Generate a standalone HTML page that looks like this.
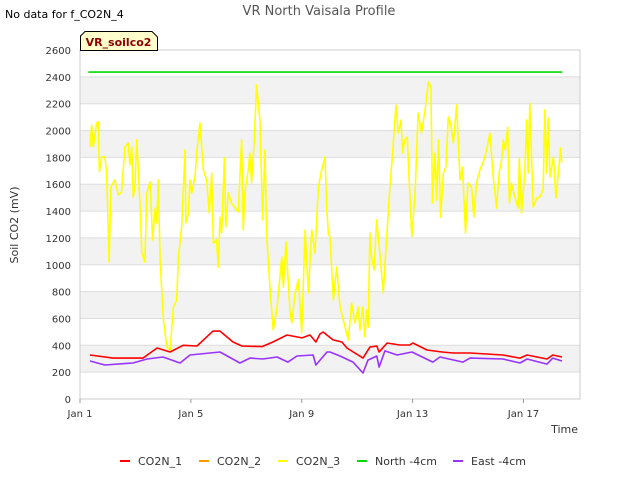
<!DOCTYPE html>
<html><head><meta charset="utf-8"><style>
body{margin:0;background:#fff;font-family:"Liberation Sans","DejaVu Sans",sans-serif}
svg text{font-family:"DejaVu Sans","Liberation Sans",sans-serif}
</style></head><body>
<svg id="chart" width="640" height="480" xmlns="http://www.w3.org/2000/svg">
<rect width="640" height="480" fill="#fff"/>
<text x="319" y="15" text-anchor="middle" font-size="13" fill="#555">VR North Vaisala Profile</text>
<text x="5" y="18" font-size="11" fill="#000">No data for f_CO2N_4</text>
<g id="plot"></g>
<path d="M80.5,50.5 V36 L85,31.5 H152 L157.5,37 V50.5 Z" fill="#ffffcc" stroke="#000" stroke-width="1"/>
<text x="118.5" y="46" text-anchor="middle" font-size="11" font-weight="bold" fill="#8b0000">VR_soilco2</text>
<text transform="translate(18,225) rotate(-90)" text-anchor="middle" font-size="11" fill="#333">Soil CO2 (mV)</text>
<text x="578" y="433" text-anchor="end" font-size="11" fill="#333">Time</text>
<g id="legend"></g>
</svg>
<script>
const yTicks=[0,200,400,600,800,1000,1200,1400,1600,1800,2000,2200,2400,2600];
const xTickDays=[0,4,8,12,16];
const xTickLabels=["Jan 1","Jan 5","Jan 9","Jan 13","Jan 17"];
const seriesNames=["CO2N_1","CO2N_2","CO2N_3","North -4cm","East -4cm"];
const seriesColors=["#ff0000","#ff9900","#ffff00","#00dd00","#9933ff"];
const co2n3Days=[.36,.42,.48,.60,.66,.70,.78,.90,.96,1.05,1.11,1.26,1.38,1.50,1.62,1.74,1.80,1.87,1.92,1.98,2.05,2.16,2.23,2.34,2.41,2.53,2.62,2.71,2.77,2.82,2.89,3.01,3.13,3.25,3.37,3.49,3.55,3.67,3.79,3.82,3.91,3.97,4.03,4.15,4.21,4.33,4.45,4.57,4.66,4.75,4.81,4.93,4.99,5.05,5.11,5.21,5.26,5.35,5.47,5.65,5.71,5.83,5.89,5.95,6.07,6.13,6.19,6.28,6.37,6.49,6.59,6.67,6.74,6.85,6.97,7.10,7.28,7.34,7.43,7.58,7.64,7.76,7.88,8.00,8.12,8.24,8.36,8.48,8.60,8.72,8.84,8.90,8.96,9.02,9.14,9.26,9.38,9.50,9.68,9.80,9.92,10.04,10.10,10.20,10.28,10.34,10.40,10.46,10.52,10.61,10.70,10.80,10.94,11.06,11.18,11.28,11.40,11.48,11.58,11.64,11.72,11.81,11.88,11.97,12.09,12.20,12.32,12.45,12.57,12.66,12.72,12.81,12.87,12.94,13.01,13.11,13.20,13.29,13.37,13.47,13.59,13.71,13.80,13.91,14.00,14.13,14.21,14.31,14.43,14.55,14.67,14.79,14.91,15.03,15.12,15.21,15.27,15.34,15.43,15.49,15.57,15.69,15.81,15.85,15.93,16.05,16.11,16.17,16.23,16.35,16.48,16.59,16.71,16.77,16.84,16.89,16.96,17.08,17.17,17.26,17.34,17.38];
const co2n3Values=[1877,2041,1877,2056,2064,1691,1803,1803,1691,1021,1579,1632,1520,1542,1877,1907,1743,1877,1505,1579,1930,1460,1088,1021,1535,1617,1185,1423,1311,1632,1036,589,387,365,685,738,1058,1281,1855,1311,1386,1632,1535,1654,1833,2056,1706,1632,1386,1684,1162,1185,983,1356,1237,1795,1281,1535,1460,1408,1393,1930,1259,1535,1706,1833,1609,1907,2339,2078,1334,1855,1207,834,514,663,1058,834,1170,641,566,790,887,492,1259,790,1259,1088,1579,1706,1803,1430,1237,1207,738,983,685,589,440,715,566,685,514,685,462,663,536,1237,1058,961,1334,1132,790,1185,1579,1833,2190,1982,2078,1833,1930,1952,1609,1207,1535,2131,1982,2153,2362,2324,1460,1833,1483,1930,1356,1684,1728,2101,2056,1907,2190,1632,1728,1237,1609,1579,1356,1609,1706,1766,1855,1982,1654,1423,1684,1780,1930,1855,2026,1460,1609,1505,1423,1795,1386,1684,2078,1684,2205,1430,1497,1505,1557,2153,1684,2093,1654,1803,1497,1684,1870,1758];
const co2n1Days=[.36,1.19,2.27,2.78,3.25,3.72,4.22,4.80,5.05,5.52,5.84,6.57,6.96,7.47,8.01,8.30,8.51,8.66,8.77,9.13,9.45,9.63,10.21,10.46,10.71,10.79,11.08,11.54,11.90,12.01,12.52,13.06,13.46,14.07,15.26,15.87,16.13,16.85,17.06,17.39];
const co2n1Values=[328,305,305,380,350,400,395,506,506,425,395,390,425,477,455,477,425,484,499,440,425,380,305,387,395,350,417,402,402,417,365,350,343,343,328,305,328,298,328,313];
const eastDays=[.36,.90,1.91,2.42,2.99,3.61,3.97,5.05,5.77,6.13,6.60,7.11,7.50,7.83,8.41,8.51,8.91,9.02,9.38,9.85,10.21,10.39,10.71,10.79,11.00,11.44,11.98,12.73,12.99,13.82,14.07,15.26,15.87,16.13,16.85,17.06,17.39];
const eastValues=[283,253,268,298,313,268,328,350,268,305,298,313,275,320,328,253,350,350,320,275,194,290,320,238,358,328,350,275,313,275,305,298,268,298,260,305,283];
const northDays=[0.3,17.4];
const northValues=[2435,2435];

const X0=80,X1=580,Y0=399,Y1=50,DMAX=18.04,VMAX=2600;
const xs=d=>X0+d*(X1-X0)/DMAX;
const ys=v=>Y0-v*(Y0-Y1)/VMAX;
const NS="http://www.w3.org/2000/svg";
const plot=document.getElementById('plot');
function mk(tag,attrs,parent){const e=document.createElementNS(NS,tag);for(const k in attrs)e.setAttribute(k,attrs[k]);parent.appendChild(e);return e;}
for(let i=0;i<yTicks.length-1;i++){
  if(i%2===1){const b=mk('rect',{x:X0,y:ys(yTicks[i+1]),width:X1-X0,height:ys(yTicks[i])-ys(yTicks[i+1]),fill:'#f2f2f2'},plot);
  
  }
}
yTicks.forEach(v=>{
  const l=mk('line',{x1:X0,x2:X1,y1:ys(v),y2:ys(v),stroke:'#dddddd','stroke-width':1},plot);
  
  
  const t=mk('text',{x:71,y:ys(v)+4,'text-anchor':'end','font-size':10,fill:'#333'},plot);
  
  
  t.textContent=v;
});
mk('rect',{x:X0,y:Y1,width:X1-X0,height:Y0-Y1,fill:'none',stroke:'#cccccc'},plot);
xTickDays.forEach((d,i)=>{
  const tk=mk('line',{x1:xs(d),x2:xs(d),y1:Y0,y2:Y0+4,stroke:'#999'},plot);
  
  
  const t=mk('text',{x:xs(d),y:417,'text-anchor':'middle','font-size':10,fill:'#333'},plot);
  
  
  t.textContent=xTickLabels[i];
});
function line(days,vals,color,name){
  const p=mk('polyline',{points:days.map((d,i)=>xs(d).toFixed(1)+','+ys(vals[i]).toFixed(1)).join(' '),fill:'none',stroke:color,'stroke-width':1.6,'stroke-linejoin':'round'},plot);
  
  
}
line(northDays,northValues,seriesColors[3],'north-4cm-line');
line(co2n3Days,co2n3Values,seriesColors[2],'co2n-3-line');
line(co2n1Days,co2n1Values,seriesColors[0],'co2n-1-line');
line(eastDays,eastValues,seriesColors[4],'east-4cm-line');
const legend=document.getElementById('legend');
const legX=[120,199,278,357,453];
seriesNames.forEach((n,i)=>{
  const g=mk('g',{},legend);
  
  
  mk('line',{x1:legX[i],x2:legX[i]+10,y1:461,y2:461,stroke:seriesColors[i],'stroke-width':2},g);
  const t=mk('text',{x:legX[i]+18,y:465,'font-size':11,fill:'#333'},g);
  t.textContent=n;
});
</script>
</body></html>
